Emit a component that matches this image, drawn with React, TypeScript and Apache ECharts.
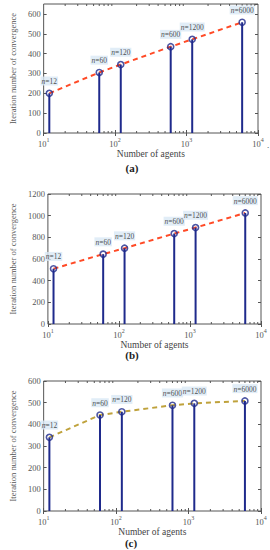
import React, { useEffect, useRef } from "react";
import * as echarts from "echarts";

const AGENTS = [12, 60, 120, 600, 1200, 6000];
const AGENT_LABELS = ["12", "60", "120", "600", "1200", "6000"];
const ITER_A = [200, 305, 345, 435, 472, 558];
const ITER_B = [510, 645, 700, 835, 890, 1025];
const ITER_C = [340, 443, 458, 488, 497, 508];
const Y_MAX = [650, 1200, 600];
const Y_INTERVAL = [100, 200, 100];
const MINOR_TICKS = [20, 30, 40, 50, 60, 70, 80, 90, 200, 300, 400, 500, 600, 700, 800, 900, 2000, 3000, 4000, 5000, 6000, 7000, 8000, 9000];
const PANEL_LETTERS = ["(a)", "(b)", "(c)"];
const X_NAME = "Number of agents";
const Y_NAME = "Iteration number of convergence";

const FONT = "Liberation Serif";
const NAVY = "#1f2a8c";
const LINE_COLORS = ["#ff4a26", "#ff4a26", "#bfa23c"];
const GRIDS = [
  { left: 32, top: 4, width: 226, height: 129 },
  { left: 32, top: 194, width: 229, height: 130 },
  { left: 32, top: 381, width: 229, height: 130 },
];
const LETTER_POS = [
  [132, 168],
  [132, 355],
  [131, 543],
];

export default function App() {
  const ref = useRef<HTMLDivElement>(null);
  useEffect(() => {
    if (!ref.current) return;
    const chart = echarts.init(ref.current, null, { renderer: "svg" });
    const datasets = [ITER_A, ITER_B, ITER_C];
    const xAxis: any[] = [];
    const yAxis: any[] = [];
    const series: any[] = [];
    const grid: any[] = [];
    datasets.forEach((vals, gi) => {
      grid.push({
        ...GRIDS[gi],
        show: true,
        borderColor: "#555",
        borderWidth: 1,
        backgroundColor: "#fff",
      });
      const baseX = {
        type: "log",
        logBase: 10,
        min: 10,
        max: 10000,
        gridIndex: gi,
        splitLine: { show: false },
        axisLine: { show: false },
        axisTick: { show: true, inside: true, length: 3, lineStyle: { color: "#555" } },
      };
      xAxis.push({
        ...baseX,
        position: "bottom",
        name: X_NAME,
        nameLocation: "middle",
        nameGap: 13,
        nameTextStyle: { fontFamily: FONT, fontSize: 9.5, color: "#444" },
        axisLabel: {
          show: true,
          margin: 3,
          showMinLabel: true,
          showMaxLabel: true,
          formatter: (v: number) => `{b|10}{s|${Math.round(Math.log10(v))}}`,
          rich: {
            b: { fontFamily: FONT, fontSize: 8.5, color: "#555", padding: [3, 0, 0, 0] },
            s: { fontFamily: FONT, fontSize: 6, color: "#555", padding: [0, 0, 4, 0] },
          },
        },
      });
      xAxis.push({ ...baseX, position: "top", axisLabel: { show: false } });
      const baseY = {
        type: "value",
        min: 0,
        max: Y_MAX[gi],
        interval: Y_INTERVAL[gi],
        gridIndex: gi,
        splitLine: { show: false },
        axisLine: { show: false },
        axisTick: { show: true, inside: true, length: 3, lineStyle: { color: "#555" } },
      };
      yAxis.push({
        ...baseY,
        position: "left",
        name: Y_NAME,
        nameLocation: "middle",
        nameGap: 20,
        nameTextStyle: { fontFamily: FONT, fontSize: 8.5, color: "#555" },
        axisLabel: {
          margin: 3,
          fontFamily: FONT,
          fontSize: 8.5,
          color: "#555",
          showMaxLabel: Y_MAX[gi] % Y_INTERVAL[gi] === 0,
          formatter: (v: number) => String(v),
        },
      });
      yAxis.push({ ...baseY, position: "right", axisLabel: { show: false } });
      const xi = gi * 2;
      const yi = gi * 2;
      const pts = AGENTS.map((a, i) => [a, vals[i]]);
      // minor ticks
      series.push({
        type: "custom",
        xAxisIndex: xi,
        yAxisIndex: yi,
        silent: true,
        z: 1,
        data: MINOR_TICKS.map((t) => [t, 0]),
        renderItem: (params: any, api: any) => {
          const x = api.coord([api.value(0), 0])[0];
          const cs = params.coordSys;
          const st = { stroke: "#555", lineWidth: 1 };
          return {
            type: "group",
            children: [
              { type: "line", shape: { x1: x, y1: cs.y + cs.height, x2: x, y2: cs.y + cs.height - 2 }, style: st },
              { type: "line", shape: { x1: x, y1: cs.y, x2: x, y2: cs.y + 2 }, style: st },
            ],
          };
        },
      });
      // dashed line
      series.push({
        type: "line",
        xAxisIndex: xi,
        yAxisIndex: yi,
        data: pts,
        symbol: "none",
        z: 2,
        lineStyle: { color: LINE_COLORS[gi], width: 2, type: [5, 4] },
      });
      // stems
      series.push({
        type: "custom",
        xAxisIndex: xi,
        yAxisIndex: yi,
        z: 3,
        data: pts,
        renderItem: (params: any, api: any) => {
          const p0 = api.coord([api.value(0), 0]);
          const p1 = api.coord([api.value(0), api.value(1)]);
          return {
            type: "line",
            shape: { x1: p0[0], y1: p0[1], x2: p1[0], y2: p1[1] },
            style: { stroke: NAVY, lineWidth: 2 },
          };
        },
      });
      // circles with labels
      series.push({
        type: "scatter",
        xAxisIndex: xi,
        yAxisIndex: yi,
        z: 4,
        symbol: "circle",
        symbolSize: 6,
        itemStyle: { color: "rgba(255,255,255,0)", borderColor: NAVY, borderWidth: 1.6 },
        data: pts.map((p, i) => ({
          value: p,
          label: i === 0 ? { offset: [9, -3] } : {},
        })),
        labelLayout: { hideOverlap: false },
        label: {
          show: true,
          position: "top",
          distance: 4,
          backgroundColor: "#d9e8f5",
          padding: [1, 1, 0, 1],
          formatter: (p: any) => `{i|n}{t|=${AGENT_LABELS[p.dataIndex]}}`,
          rich: {
            i: { fontFamily: FONT, fontStyle: "italic", fontSize: 7.5, color: "#222" },
            t: { fontFamily: FONT, fontSize: 7.5, color: "#222" },
          },
        },
      });
    });
    const graphic: any[] = PANEL_LETTERS.map((l, i) => ({
      type: "text",
      x: LETTER_POS[i][0],
      y: LETTER_POS[i][1],
      style: {
        text: l,
        fontFamily: FONT,
        fontWeight: "bold",
        fontSize: 11,
        fill: "#222",
        textAlign: "center",
        textVerticalAlign: "middle",
      },
    }));
    graphic.push({
      type: "text",
      x: 268,
      y: 145,
      style: { text: ".", fontFamily: FONT, fontSize: 9, fill: "#333", textAlign: "center", textVerticalAlign: "middle" },
    });
    chart.setOption({
      animation: false,
      backgroundColor: "#fff",
      grid,
      xAxis,
      yAxis,
      series,
      graphic,
    });
    return () => chart.dispose();
  }, []);
  return (
    <div
      ref={ref}
      style={{ position: "absolute", left: 0, top: 0, width: 270, height: 550, background: "#fff" }}
    />
  );
}
